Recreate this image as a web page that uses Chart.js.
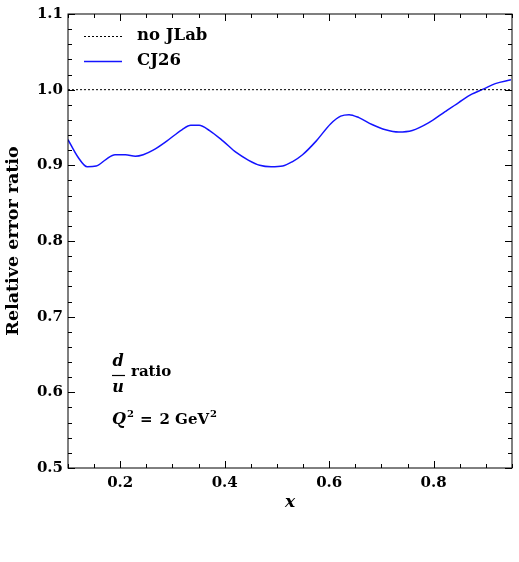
<!DOCTYPE html>
<html>
<head>
<meta charset="utf-8">
<script src="https://cdn.jsdelivr.net/npm/chart.js@4/dist/chart.umd.min.js"></script>
<style>
  html, body { margin: 0; padding: 0; background: #fff; }
  #wrap { width: 519px; height: 562px; }
</style>
</head>
<body>
<div id="wrap"><canvas id="ratioChart"></canvas></div>
<script>
// values
var xVals = [0.100, 0.119, 0.137, 0.154, 0.173, 0.190, 0.210, 0.229, 0.244, 0.263,
             0.289, 0.318, 0.335, 0.351, 0.371, 0.397, 0.422, 0.445, 0.467, 0.489,
             0.511, 0.530, 0.549, 0.575, 0.603, 0.622, 0.638, 0.657, 0.682, 0.708,
             0.733, 0.759, 0.790, 0.822, 0.848, 0.873, 0.896, 0.918, 0.948]
var cj26 = [0.934, 0.911, 0.898, 0.899, 0.908, 0.914, 0.914, 0.912, 0.914, 0.920,
            0.932, 0.947, 0.953, 0.953, 0.946, 0.932, 0.917, 0.907, 0.900, 0.898,
            0.899, 0.905, 0.914, 0.932, 0.955, 0.965, 0.967, 0.963, 0.954, 0.947,
            0.944, 0.946, 0.956, 0.971, 0.983, 0.994, 1.001, 1.008, 1.013]
var noJLabX = [0.1, 0.95]
var noJLabY = [1.0, 1.0]

var xTicks = [0.2, 0.4, 0.6, 0.8]
var yTicks = [0.5, 0.6, 0.7, 0.8, 0.9, 1.0, 1.1]
var xMinorStep = 0.05
var yMinorStep = 0.02

var SERIF = '"DejaVu Serif", serif'

const frameTicks = {
    id: 'frameTicks',
    afterDraw(chart) {
        const c = chart.ctx
        const a = chart.chartArea
        const xs = chart.scales.x
        const ys = chart.scales.y
        c.save()
        c.strokeStyle = '#000'
        c.lineWidth = 1
        c.strokeRect(a.left, a.top, a.right - a.left, a.bottom - a.top)

        // inward ticks on all four sides
        c.beginPath()
        for (let v = 0.1; v <= xs.max + 1e-9; v += xMinorStep) {
            const major = xTicks.some(t => Math.abs(t - v) < 1e-6)
            const len = major ? 7 : 4
            const px = Math.round(xs.getPixelForValue(v)) + 0.5
            c.moveTo(px, a.bottom); c.lineTo(px, a.bottom - len)
            c.moveTo(px, a.top); c.lineTo(px, a.top + len)
        }
        for (let v = ys.min; v <= ys.max + 1e-9; v += yMinorStep) {
            const major = yTicks.some(t => Math.abs(t - v) < 1e-6)
            const len = major ? 7 : 4
            const py = Math.round(ys.getPixelForValue(v)) + 0.5
            c.moveTo(a.left, py); c.lineTo(a.left + len, py)
            c.moveTo(a.right, py); c.lineTo(a.right - len, py)
        }
        c.stroke()

        // legend
        const ds = chart.data.datasets
        const rows = [{ d: ds[0], y: 36 }, { d: ds[1], y: 61 }]
        c.font = 'bold 16.5px ' + SERIF
        c.textBaseline = 'middle'
        c.fillStyle = '#000'
        rows.forEach(r => {
            c.beginPath()
            c.strokeStyle = r.d.borderColor
            c.lineWidth = r.d.borderWidth
            c.setLineDash(r.d.borderDash || [])
            c.moveTo(84, r.y + 0.5); c.lineTo(122, r.y + 0.5)
            c.stroke()
            c.setLineDash([])
            c.fillText(r.d.label, 137, r.y)
        })

        // annotation: d/u ratio
        c.textAlign = 'center'
        c.font = 'bold italic 16px ' + SERIF
        c.fillText('d', 118, 362)
        c.fillText('u', 118, 388)
        c.beginPath()
        c.strokeStyle = '#000'
        c.lineWidth = 1.2
        c.moveTo(112, 375.5); c.lineTo(125, 375.5)
        c.stroke()
        c.textAlign = 'left'
        c.font = 'bold 15px ' + SERIF
        c.fillText('ratio', 131, 372)

        // Q^2 = 2 GeV^2
        let x = 112
        const yq = 420
        c.font = 'bold italic 16px ' + SERIF
        c.fillText('Q', x, yq); x += c.measureText('Q').width + 1
        c.font = 'bold 10px ' + SERIF
        c.fillText('2', x, yq - 6); x += c.measureText('2').width + 6
        c.font = 'bold 15px ' + SERIF
        c.fillText('=', x, yq); x += c.measureText('=').width + 7
        c.fillText('2 GeV', x, yq); x += c.measureText('2 GeV').width + 1
        c.font = 'bold 10px ' + SERIF
        c.fillText('2', x, yq - 6)
        c.restore()
    }
}

const ctx = document.getElementById('ratioChart')
const chart = new Chart(ctx, {
    type: 'line',
    data: {
        datasets: [
            {
                label: 'no JLab',
                data: noJLabX.map((v, i) => ({ x: v, y: noJLabY[i] })),
                borderColor: '#000',
                borderWidth: 1,
                borderDash: [2, 2],
                pointRadius: 0
            },
            {
                label: 'CJ26',
                data: xVals.map((v, i) => ({ x: v, y: cj26[i] })),
                borderColor: '#1414ff',
                borderWidth: 1.5,
                pointRadius: 0,
                cubicInterpolationMode: 'monotone'
            }
        ]
    },
    options: {
        responsive: true,
        maintainAspectRatio: false,
        animation: false,
        layout: { padding: { top: 13, right: 7, left: 0, bottom: 49 } },
        plugins: {
            legend: { display: false },
            tooltip: { enabled: false }
        },
        scales: {
            x: {
                type: 'linear',
                min: 0.1,
                max: 0.95,
                grid: { display: false, drawTicks: false },
                border: { display: false },
                afterBuildTicks: s => { s.ticks = xTicks.map(v => ({ value: v })) },
                afterFit: s => { s.height = 45 },
                ticks: {
                    padding: 6,
                    color: '#000',
                    font: { family: SERIF, size: 15, weight: 'bold' },
                    maxRotation: 0,
                    callback: v => v.toFixed(1)
                },
                title: {
                    display: true,
                    text: 'x',
                    color: '#000',
                    padding: { top: 0, bottom: 0 },
                    font: { family: SERIF, size: 17, weight: 'bold', style: 'italic' }
                }
            },
            y: {
                min: 0.5,
                max: 1.1,
                grid: { display: false, drawTicks: false },
                border: { display: false },
                afterBuildTicks: s => { s.ticks = yTicks.map(v => ({ value: v })) },
                afterFit: s => { s.width = 68 },
                ticks: {
                    padding: 5,
                    color: '#000',
                    font: { family: SERIF, size: 15, weight: 'bold' },
                    callback: v => v.toFixed(1)
                },
                title: {
                    display: true,
                    text: 'Relative error ratio',
                    color: '#000',
                    padding: { top: 3 },
                    font: { family: SERIF, size: 17.5, weight: 'bold' }
                }
            }
        }
    },
    plugins: [frameTicks]
})
</script>
</body>
</html>
